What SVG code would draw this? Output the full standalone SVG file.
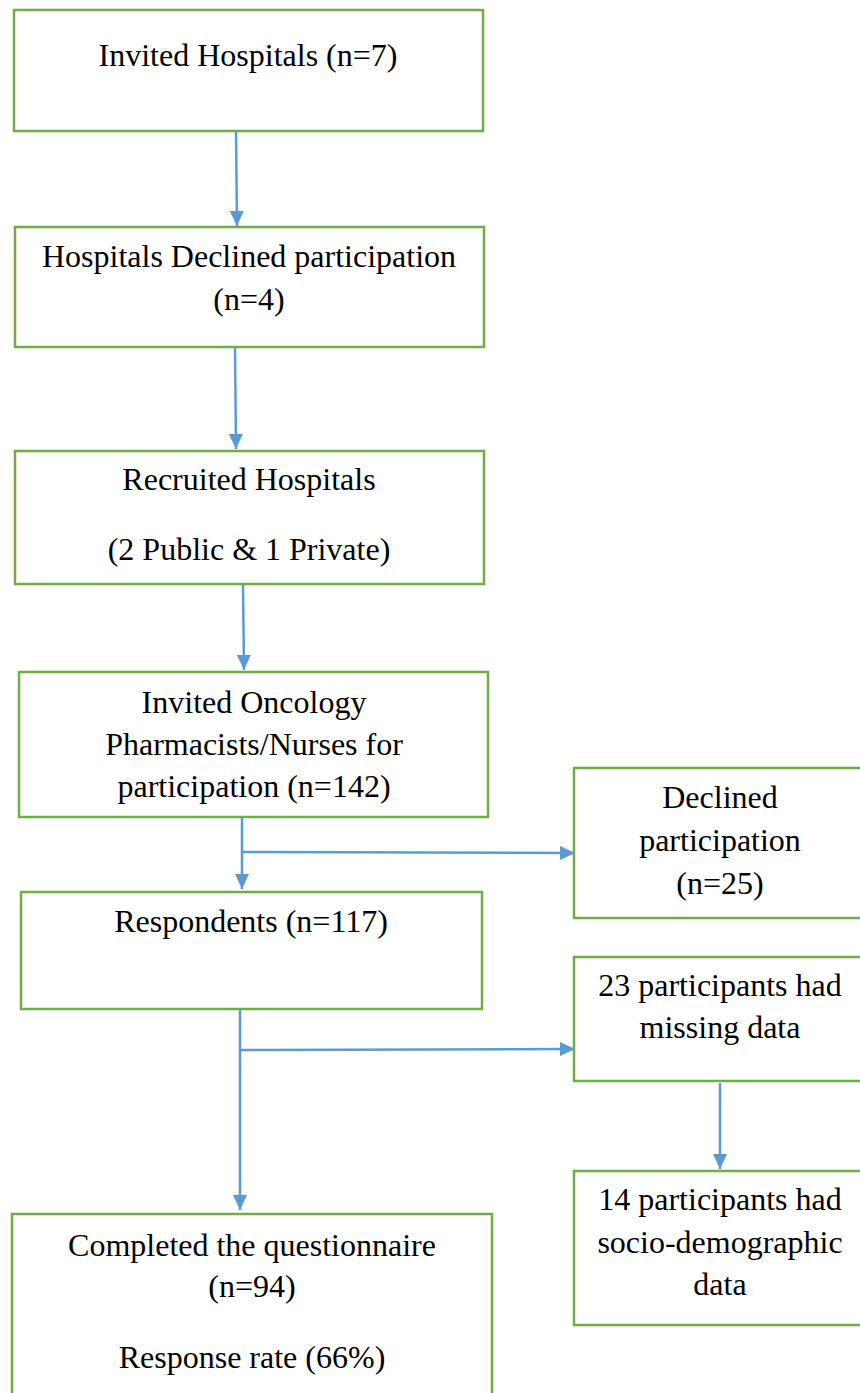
<svg xmlns="http://www.w3.org/2000/svg" width="860" height="1393" viewBox="0 0 860 1393">
<style>
.box{fill:#fff;stroke:#70AD47;stroke-width:2.5}
.t{font-family:"Liberation Serif","Times New Roman",serif;font-size:32px;fill:#000;text-anchor:middle}
.c{stroke:#5B9BD5;stroke-width:2.5;fill:none}
</style>
<defs>
<marker id="ah" viewBox="0 0 15 14" refX="15" refY="7" markerWidth="15" markerHeight="14" orient="auto" markerUnits="userSpaceOnUse">
<path d="M0,0 L15,7 L0,14 z" fill="#5B9BD5"/>
</marker>
</defs>
<rect width="860" height="1393" fill="#fff"/>
<g id="connectors">
<line class="c" x1="236" y1="131" x2="237" y2="226" marker-end="url(#ah)"/>
<line class="c" x1="235" y1="347" x2="236" y2="449" marker-end="url(#ah)"/>
<line class="c" x1="243" y1="584" x2="244" y2="670" marker-end="url(#ah)"/>
<line class="c" x1="242" y1="817" x2="242" y2="889" marker-end="url(#ah)"/>
<line class="c" x1="241" y1="852" x2="575" y2="853" marker-end="url(#ah)"/>
<line class="c" x1="240" y1="1009" x2="240" y2="1210" marker-end="url(#ah)"/>
<line class="c" x1="240" y1="1050" x2="575" y2="1049" marker-end="url(#ah)"/>
<line class="c" x1="720" y1="1083" x2="720" y2="1169" marker-end="url(#ah)"/>
</g>
<g id="n1"><rect class="box" x="14" y="10" width="469" height="121"/><text class="t" x="248" y="66">Invited Hospitals (n=7)</text></g>
<g id="n2"><rect class="box" x="15" y="227" width="469" height="120"/><text class="t" x="249" y="267">Hospitals Declined participation</text><text class="t" x="249" y="310">(n=4)</text></g>
<g id="n3"><rect class="box" x="15" y="451" width="469" height="133"/><text class="t" x="249" y="490">Recruited Hospitals</text><text class="t" x="249" y="560">(2 Public &amp; 1 Private)</text></g>
<g id="n4"><rect class="box" x="19" y="672" width="469" height="145"/><text class="t" x="254" y="713">Invited Oncology</text><text class="t" x="254" y="755">Pharmacists/Nurses for</text><text class="t" x="254" y="797">participation (n=142)</text></g>
<g id="n5"><rect class="box" x="574" y="768" width="290" height="150"/><text class="t" x="720" y="808">Declined</text><text class="t" x="720" y="851">participation</text><text class="t" x="720" y="894">(n=25)</text></g>
<g id="n6"><rect class="box" x="21" y="892" width="461" height="117"/><text class="t" x="251" y="932">Respondents (n=117)</text></g>
<g id="n7"><rect class="box" x="574" y="957" width="290" height="124"/><text class="t" x="720" y="996">23 participants had</text><text class="t" x="720" y="1038">missing data</text></g>
<g id="n8"><rect class="box" x="574" y="1171" width="290" height="154"/><text class="t" x="720" y="1210">14 participants had</text><text class="t" x="720" y="1253">socio-demographic</text><text class="t" x="720" y="1295">data</text></g>
<g id="n9"><rect class="box" x="12" y="1214" width="480" height="190"/><text class="t" x="252" y="1256">Completed the questionnaire</text><text class="t" x="252" y="1297">(n=94)</text><text class="t" x="252" y="1368">Response rate (66%)</text></g>
</svg>
